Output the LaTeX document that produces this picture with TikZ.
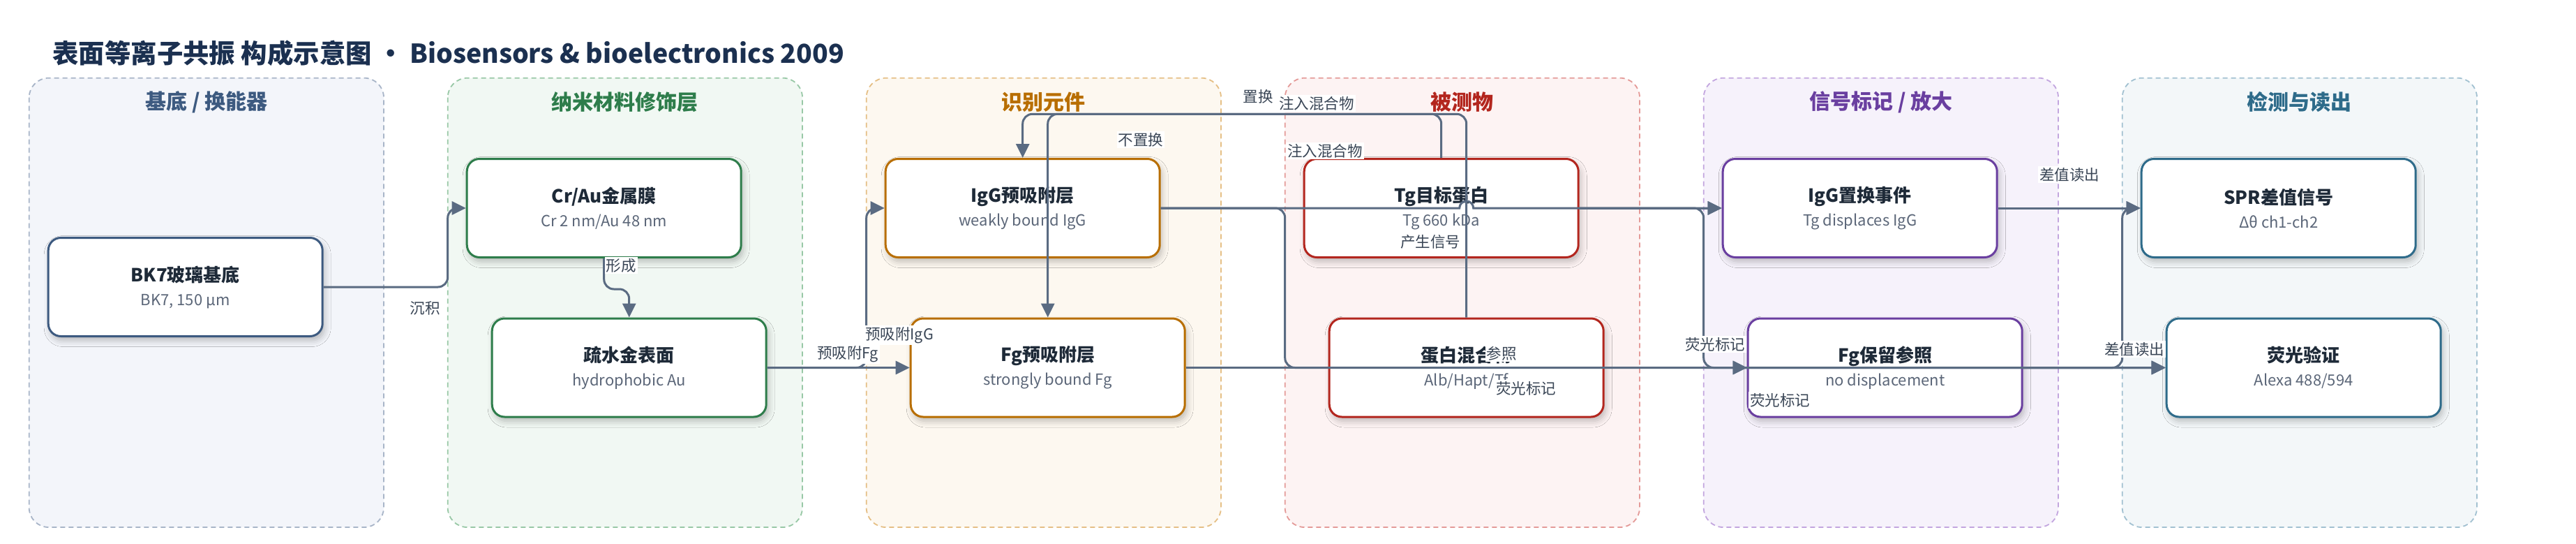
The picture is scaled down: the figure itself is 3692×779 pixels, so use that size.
\documentclass[tikz,border=0pt]{standalone}
\usepackage{fontspec}
\setmainfont{Noto Sans CJK SC}
\usetikzlibrary{arrows.meta,calc,shadows.blur}

\definecolor{ink}{HTML}{1E2A38}
\definecolor{subink}{HTML}{5B6678}
\definecolor{lblink}{HTML}{3A4656}
\definecolor{linkc}{HTML}{5A6B82}
\definecolor{navy}{HTML}{1B3050}
\definecolor{cA}{HTML}{3D5A80}\definecolor{fA}{HTML}{F3F5FA}\definecolor{dA}{HTML}{A8B5C8}
\definecolor{cB}{HTML}{2E7D4B}\definecolor{fB}{HTML}{F1F8F3}\definecolor{dB}{HTML}{98C8A6}
\definecolor{cC}{HTML}{B86E00}\definecolor{fC}{HTML}{FDF8F0}\definecolor{dC}{HTML}{E5BF85}
\definecolor{cD}{HTML}{B3261E}\definecolor{fD}{HTML}{FDF3F3}\definecolor{dD}{HTML}{E49A98}
\definecolor{cE}{HTML}{6A3FA0}\definecolor{fE}{HTML}{F6F2FB}\definecolor{dE}{HTML}{C3A6DF}
\definecolor{cF}{HTML}{2E6B8A}\definecolor{fF}{HTML}{F3F7F9}\definecolor{dF}{HTML}{A2C1D1}

\newcommand{\twoline}[2]{{\fontsize{26}{34}\selectfont\bfseries\color{ink}#1}\\{\color{subink}#2}}

\begin{document}
\begin{tikzpicture}
[
  x=1pt, y=-1pt,
  panel/.style args={#1/#2}{fill=#1, draw=#2, line width=1.8pt, dash pattern=on 7pt off 5pt, rounded corners=28pt},
  ptitle/.style={text=#1, font=\fontsize{30}{34}\selectfont\bfseries},
  box/.style={draw=#1, fill=white, line width=3pt, rounded corners=18pt, minimum width=393pt, minimum height=141pt, align=center, font=\fontsize{22}{34}\selectfont, blur shadow={shadow xshift=3pt, shadow yshift=-6pt, shadow blur radius=9pt, shadow opacity=25}},
  conn/.style={draw=linkc, line width=3pt, rounded corners=14pt, -{Triangle[length=20pt,width=19pt]}},
  lbl/.style={fill=white, inner sep=2pt, text=lblink, font=\fontsize{21.5}{24}\selectfont}
]

\useasboundingbox (0,0) rectangle (3692,779);
\fill[white] (0,0) rectangle (3692,779);

\node[anchor=west, text=navy, font=\fontsize{37.4}{44}\selectfont\bfseries] (title) at (72,76) {表面等离子共振 构成示意图 • Biosensors \& bioelectronics 2009};

\draw[panel=fA/dA] (41.7,111.7) rectangle (550,755);
\draw[panel=fB/dB] (641.7,111.7) rectangle (1150,755);
\draw[panel=fC/dC] (1241.7,111.7) rectangle (1750,755);
\draw[panel=fD/dD] (1841.7,111.7) rectangle (2350,755);
\draw[panel=fE/dE] (2441.7,111.7) rectangle (2950,755);
\draw[panel=fF/dF] (3041.7,111.7) rectangle (3550,755);

\node[ptitle=cA] (pt1) at (295.85,146) {基底 / 换能器};
\node[ptitle=cB] (pt2) at (895.85,146) {纳米材料修饰层};
\node[ptitle=cC] (pt3) at (1495.85,146) {识别元件};
\node[ptitle=cD] (pt4) at (2095.85,146) {被测物};
\node[ptitle=cE] (pt5) at (2695.85,146) {信号标记 / 放大};
\node[ptitle=cF] (pt6) at (3295.85,146) {检测与读出};

\coordinate (g1) at (641.7,0);
\coordinate (g2) at (1241.7,0);
\coordinate (g3) at (1841.7,0);
\coordinate (g4) at (2441.7,0);
\coordinate (g5) at (3041.7,0);
\coordinate (bus) at (0,163.3);

\node[box=cA] (bk7) at (265.7,411) {\twoline{BK7玻璃基底}{BK7, 150 μm}};
\node[box=cB] (crau) at (865.7,298) {\twoline{Cr/Au金属膜}{Cr 2 nm/Au 48 nm}};
\node[box=cB] (hydro) at (901.7,526.5) {\twoline{疏水金表面}{hydrophobic Au}};
\node[box=cC] (iggpre) at (1465.7,298) {\twoline{IgG预吸附层}{weakly bound IgG}};
\node[box=cC] (fgpre) at (1501.7,526.5) {\twoline{Fg预吸附层}{strongly bound Fg}};
\node[box=cD] (tg) at (2065.7,298) {\twoline{Tg目标蛋白}{Tg 660 kDa}};
\node[box=cD] (mix) at (2101.7,526.5) {\twoline{蛋白混合物}{Alb/Hapt/Tf}};
\node[box=cE] (iggev) at (2665.7,298) {\twoline{IgG置换事件}{Tg displaces IgG}};
\node[box=cE] (fgref) at (2701.7,526.5) {\twoline{Fg保留参照}{no displacement}};
\node[box=cF] (spr) at (3265.7,298) {\twoline{SPR差值信号}{Δθ ch1-ch2}};
\node[box=cF] (fluor) at (3301.7,526.5) {\twoline{荧光验证}{Alexa 488/594}};

\draw[conn] (bk7.east) -| (g1 |- crau.west) -- (crau.west);
\draw[conn] (crau.south) -- ++(0,44) -| (hydro.north);
\draw[conn] (hydro.east) -- (fgpre.west);
\draw[conn] (hydro.east) -| (g2 |- iggpre.west) -- (iggpre.west);
\draw[conn] (tg.north) -- (tg.north |- bus) -| (iggpre.north);
\draw[conn] (mix.north) -- (mix.north |- bus) -| (fgpre.north);
\draw[conn, sharp corners] (iggpre.east) -- ($(mix.north |- iggpre.east)+(-10,0)$) arc[start angle=180, end angle=360, radius=10] -- (iggev.west);
\draw[conn] (iggpre.east) -| (g3 |- fluor.west) -- (fluor.west);
\draw[conn] (fgpre.east) -- (fgref.west);
\draw[conn] (fgpre.east) -- (fluor.west);
\draw[conn] (tg.east) -- (iggev.west);
\draw[conn] (mix.east) -- (fgref.west);
\draw[conn] (tg.east) -| (g4 |- fluor.west) -- (fluor.west);
\draw[conn] (iggev.east) -- (spr.west);
\draw[conn] (fgref.east) -| (g5 |- spr.west) -- (spr.west);

\node[lbl] (l1) at (609,441) {沉积};
\node[lbl] (l2) at (890,380) {形成};
\node[lbl] (l3) at (1215,507) {预吸附Fg};
\node[lbl] (l4) at (1289,480) {预吸附IgG};
\node[lbl] (l5) at (1803,138) {置换};
\node[lbl] (l6) at (1887,148) {注入混合物};
\node[lbl] (l7) at (1635,200) {不置换};
\node[lbl] (l8) at (1899,216) {注入混合物};
\node[lbl] (l9) at (2050,346) {产生信号};
\node[lbl] (l10) at (2152,506) {参照};
\node[lbl] (l11) at (2187,556) {荧光标记};
\node[lbl] (l12) at (2458,493) {荧光标记};
\node[lbl] (l13) at (2551,573) {荧光标记};
\node[lbl] (l14) at (2966,250) {差值读出};
\node[lbl] (l15) at (3059,500) {差值读出};
\end{tikzpicture}
\end{document}
